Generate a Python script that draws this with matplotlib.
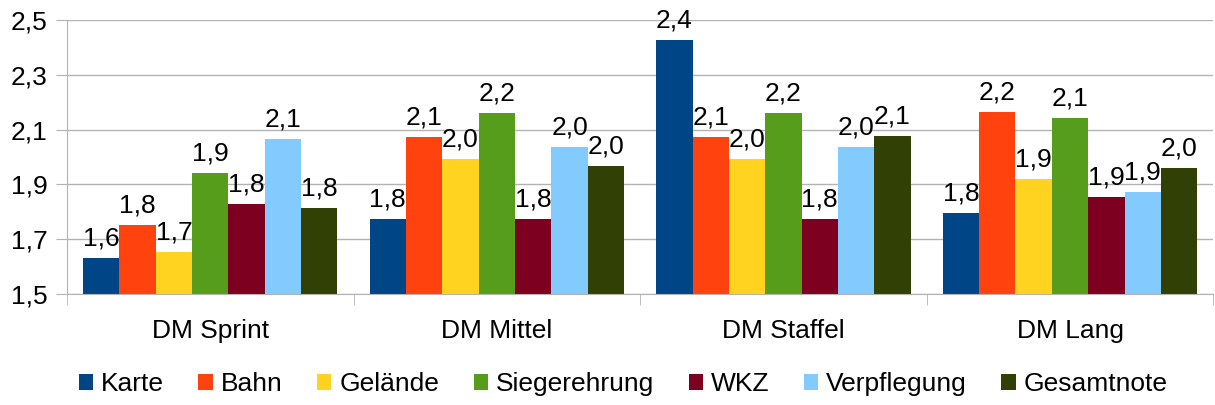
import matplotlib.pyplot as plt
import numpy as np

# values
categories = ['DM Sprint', 'DM Mittel', 'DM Staffel', 'DM Lang']
series = ['Karte', 'Bahn', 'Gelände', 'Siegerehrung', 'WKZ', 'Verpflegung', 'Gesamtnote']
karte = [1.631, 1.775, 2.427, 1.796]
bahn = [1.750, 2.073, 2.073, 2.164]
gelaende = [1.653, 1.993, 1.993, 1.920]
siegerehrung = [1.942, 2.161, 2.161, 2.142]
wkz = [1.828, 1.772, 1.774, 1.854]
verpflegung = [2.066, 2.036, 2.036, 1.872]
gesamtnote = [1.814, 1.967, 2.077, 1.960]
yticks = [1.5, 1.7, 1.9, 2.1, 2.3, 2.5]

values = [karte, bahn, gelaende, siegerehrung, wkz, verpflegung, gesamtnote]
colors = ['#004586', '#ff420e', '#ffd320', '#579d1c', '#7e0021', '#83caff', '#314004']

plt.rcParams['font.family'] = ['Liberation Sans', 'DejaVu Sans']
grid_c = '#b3b3b3'
fs = 19

fig = plt.figure(figsize=(12.15, 4.05), dpi=100)
ax = fig.add_axes([0.0551, 0.274, 0.9435, 0.677])

x = np.arange(len(categories))
n = len(series)
w = 0.888 / n
for i, (name, vals, c) in enumerate(zip(series, values, colors)):
    pos = x - 0.444 + w * (i + 0.5)
    bars = ax.bar(pos, np.array(vals) - 1.5, bottom=1.5, width=w, color=c,
                  label=name, zorder=3)
    for b, v in zip(bars, vals):
        ax.annotate(f'{v:.1f}'.replace('.', ','), (b.get_x() + b.get_width() / 2, v),
                    xytext=(0, 9), textcoords='offset points', ha='center',
                    va='baseline', fontsize=fs, zorder=4)

ax.set_xlim(-0.5, len(categories) - 0.5)
ax.set_ylim(1.5, 2.5)
ax.set_yticks(yticks)
ax.set_yticklabels([f'{t:.1f}'.replace('.', ',') for t in yticks], fontsize=fs)
ax.yaxis.grid(True, color=grid_c, linewidth=1, zorder=0)
ax.tick_params(axis='y', length=8, color=grid_c, pad=6)

ax.set_xticks(x)
ax.set_xticklabels(categories, fontsize=fs)
ax.tick_params(axis='x', which='major', length=0, pad=18)
ax.set_xticks(np.arange(len(categories) + 1) - 0.5, minor=True)
ax.tick_params(axis='x', which='minor', length=8, color=grid_c)

for s in ['top', 'right']:
    ax.spines[s].set_visible(False)
for s in ['left', 'bottom']:
    ax.spines[s].set_color(grid_c)
    ax.spines[s].set_zorder(5)

leg = fig.legend(loc='center', bbox_to_anchor=(0.513, 0.052), ncol=n, frameon=False,
                 fontsize=fs, handlelength=0.55, handleheight=0.55, handletextpad=0.3,
                 columnspacing=1.3)

fig.savefig('out.png', dpi=100)
